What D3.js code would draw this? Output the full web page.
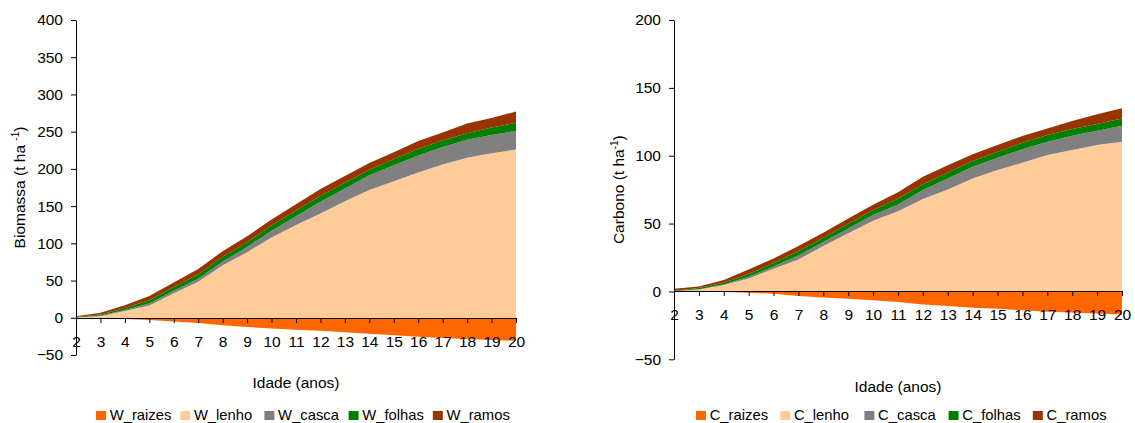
<!DOCTYPE html>
<html>
<head>
<meta charset="utf-8">
<script src="https://cdn.jsdelivr.net/npm/d3@7"></script>
<style>
  body { margin: 0; background: #fff; }
  svg { display: block; }
  text { font-family: "Liberation Sans", Arial, sans-serif; fill: #000; }
</style>
</head>
<body>
<svg id="chart" width="1135" height="423"></svg>
<script>
// Stand age (years)
const ages = [2, 3, 4, 5, 6, 7, 8, 9, 10, 11, 12, 13, 14, 15, 16, 17, 18, 19, 20];

// Biomass by compartment (t ha-1); roots plotted as negative values
const W_raizes = [0, -0.5, -1.5, -3, -5, -7, -10, -12.5, -14.5, -16, -17.5, -19.5, -21.5, -23.5, -25.5, -27, -28.5, -30, -31];
const W_lenho  = [0.3, 2.2, 9, 16.6, 33, 48.5, 70.5, 88, 108, 124.5, 140, 156.5, 171.5, 183.5, 195, 206, 215, 221, 226];
const W_casca  = [0.2, 0.7, 1.3, 2.6, 3.2, 4, 5, 7, 9, 12, 16, 17, 20, 21.5, 23, 23.5, 24, 24.5, 25];
const W_folhas = [0.5, 1.4, 3, 4.5, 5, 6, 6.5, 6.5, 7, 7.5, 8, 8, 7.5, 8, 9, 8.5, 9, 10, 11];
const W_ramos  = [1, 2.4, 3.6, 5.5, 6.3, 7, 7.5, 8, 8, 8.5, 9, 9, 9, 9.5, 10.5, 11, 13, 13, 15];

// Carbon stock by compartment (t ha-1)
const C_raizes = [0, -0.2, -0.5, -1, -1.7, -3.4, -4.4, -5.4, -6.4, -7.7, -9.6, -10.8, -12, -12.7, -13.8, -15, -15.5, -16.2, -17];
const C_lenho  = [0.2, 1.5, 4.7, 9.6, 16.7, 23.6, 33.4, 42.8, 52.1, 59, 68.1, 75.2, 83.3, 89.4, 94.8, 100.6, 104.2, 107.9, 110.3];
const C_casca  = [0.1, 0.2, 0.5, 1.2, 1.7, 2.9, 3, 3.6, 4.2, 5, 6.6, 8, 8.6, 9.1, 10, 9.7, 10.5, 10.5, 11.8];
const C_folhas = [0.3, 0.8, 1.2, 2, 2.5, 3.2, 3.2, 3.5, 3.7, 4.3, 4.2, 4.4, 4.2, 4.5, 4.7, 4.9, 5, 4.9, 5.4];
const C_ramos  = [1.4, 1.2, 2, 3.4, 3.4, 3.7, 3.6, 3.9, 3.9, 4.8, 5.6, 5.4, 4.9, 4.9, 5.1, 4.9, 5.9, 7.2, 7.4];

// Axis tick values
const biomassTicks = [-50, 0, 50, 100, 150, 200, 250, 300, 350, 400];
const carbonTicks  = [-50, 0, 50, 100, 150, 200];

const parts = ["raizes", "lenho", "casca", "folhas", "ramos"];
const colors = {
  raizes: "#FF6600",
  lenho:  "#FFCC99",
  casca:  "#808080",
  folhas: "#008000",
  ramos:  "#993300"
};

const svg = d3.select("#chart");

function drawPanel(cfg) {
  const rows = ages.map((a, i) => {
    const r = { age: a };
    parts.forEach(p => { r[p] = cfg.series[p][i]; });
    return r;
  });

  const x = d3.scaleLinear().domain([ages[0], ages[ages.length - 1]]).range([cfg.left, cfg.right]);
  const y = d3.scaleLinear().domain([cfg.ticks[0], cfg.ticks[cfg.ticks.length - 1]]).range([cfg.bottom, cfg.top]);

  const stacked = d3.stack().keys(parts).offset(d3.stackOffsetDiverging)(rows);

  const area = d3.area()
    .x(d => x(d.data.age))
    .y0(d => y(d[0]))
    .y1(d => y(d[1]));

  const g = svg.append("g");

  g.selectAll("path.layer")
    .data(stacked)
    .join("path")
    .attr("class", "layer")
    .attr("fill", d => colors[d.key])
    .attr("d", area);

  // Y axis
  const yAxis = g.append("g")
    .attr("transform", `translate(${Math.round(cfg.left)},0)`)
    .call(d3.axisLeft(y).tickValues(cfg.ticks).tickSize(5).tickSizeOuter(0).tickPadding(8));
  yAxis.selectAll("text")
    .attr("font-family", "Liberation Sans, Arial, sans-serif")
    .attr("font-size", "15.5px")
    .attr("fill", "#000");
  yAxis.selectAll("line, path").attr("stroke", "#000");

  // X axis crossing at zero
  const xAxis = g.append("g")
    .attr("transform", `translate(0,${Math.round(y(0))})`)
    .call(d3.axisBottom(x).tickValues(ages).tickFormat(d3.format("d")).tickSize(5).tickSizeOuter(0).tickPadding(13));
  xAxis.selectAll("text")
    .attr("font-family", "Liberation Sans, Arial, sans-serif")
    .attr("font-size", "15.5px")
    .attr("fill", "#000");
  xAxis.selectAll("line, path").attr("stroke", "#000");

  // Y axis title with superscript unit
  const yMid = (cfg.top + cfg.bottom) / 2;
  const yt = g.append("text")
    .attr("transform", `translate(${cfg.yTitleX},${yMid}) rotate(-90)`)
    .attr("text-anchor", "middle")
    .attr("font-size", "15.5px");
  yt.append("tspan").text(cfg.yTitle);
  yt.append("tspan").attr("dy", -6).attr("font-size", "10px").text("-1");
  yt.append("tspan").attr("dy", 6).text(")");

  // X axis title
  g.append("text")
    .attr("x", (cfg.left + cfg.right) / 2)
    .attr("y", cfg.bottom + 33)
    .attr("text-anchor", "middle")
    .attr("font-size", "15.5px")
    .text("Idade (anos)");

  // Legend: evenly spaced entries
  const slot = 84.2;
  const lg = g.append("g").attr("transform", `translate(${cfg.legendX},0)`);
  parts.forEach((p, i) => {
    const cx = i * slot;
    lg.append("rect")
      .attr("x", cx).attr("y", 411)
      .attr("width", 10).attr("height", 9)
      .attr("fill", colors[p]);
    lg.append("text")
      .attr("x", cx + 13.7).attr("y", 419.5)
      .attr("font-size", "14.8px")
      .text(cfg.prefix + "_" + p);
  });
}

drawPanel({
  prefix: "W",
  series: { raizes: W_raizes, lenho: W_lenho, casca: W_casca, folhas: W_folhas, ramos: W_ramos },
  ticks: biomassTicks,
  left: 76, right: 516, top: 20, bottom: 355,
  yTitle: "Biomassa (t ha ",
  yTitleX: 24.5,
  legendX: 96
});

drawPanel({
  prefix: "C",
  series: { raizes: C_raizes, lenho: C_lenho, casca: C_casca, folhas: C_folhas, ramos: C_ramos },
  ticks: carbonTicks,
  left: 674, right: 1122, top: 20, bottom: 359.3,
  yTitle: "Carbono (t ha",
  yTitleX: 624,
  legendX: 696
});
</script>
</body>
</html>
